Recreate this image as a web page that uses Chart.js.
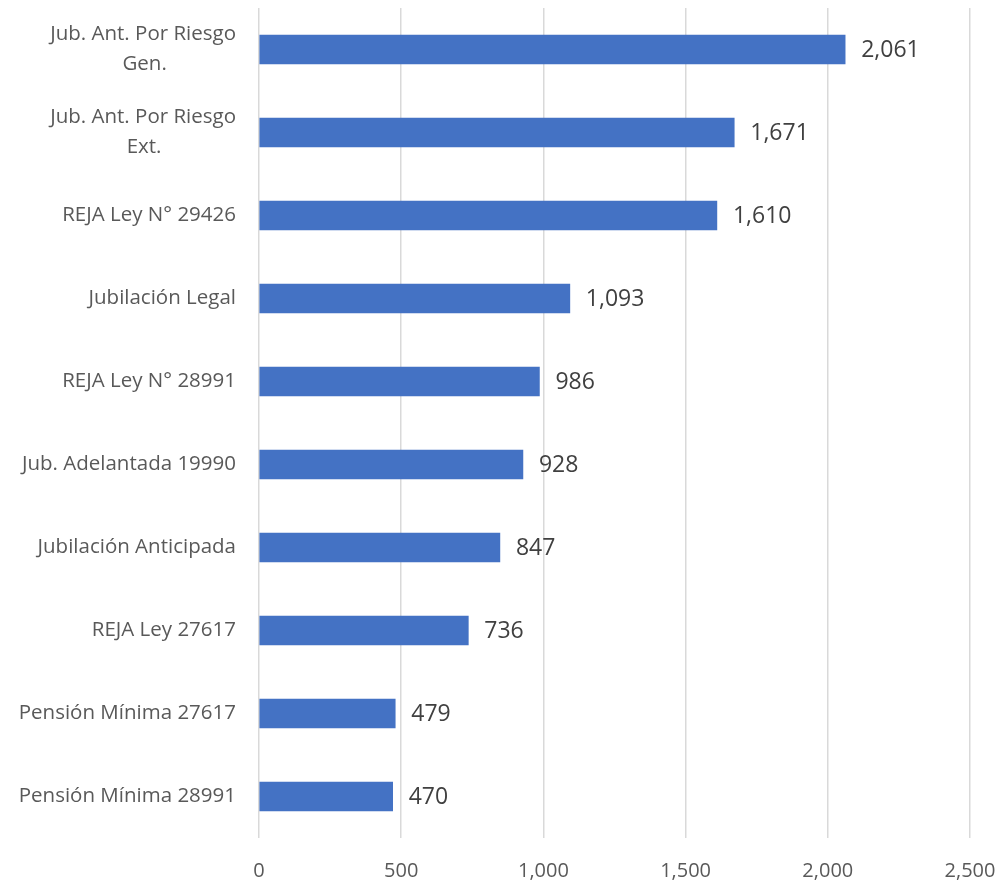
<!DOCTYPE html>
<html>
<head>
<meta charset="utf-8">
<script src="https://cdn.jsdelivr.net/npm/chart.js@4"></script>
<style>
  html, body { margin: 0; padding: 0; background: #fff; }
  #wrap { width: 999px; height: 882px; }
</style>
</head>
<body>
<div id="wrap"><canvas id="chart" width="999" height="882"></canvas></div>
<script>
const categories = [
  ["Jub. Ant. Por Riesgo", "Gen."],
  ["Jub. Ant. Por Riesgo", "Ext."],
  "REJA Ley N° 29426",
  "Jubilación Legal",
  "REJA Ley N° 28991",
  "Jub. Adelantada 19990",
  "Jubilación Anticipada",
  "REJA Ley 27617",
  "Pensión Mínima 27617",
  "Pensión Mínima 28991"
];
const values = [2061, 1671, 1610, 1093, 986, 928, 847, 736, 479, 470];
const xTicks = [0, 500, 1000, 1500, 2000, 2500];

const FONT = "'Open Sans', 'Noto Sans', sans-serif";
const Y_FONT_SIZE = 20.5;

// wrapped labels are centred on their longest line, so pad the short lines
const measureCtx = document.createElement("canvas").getContext("2d");
measureCtx.font = Y_FONT_SIZE + "px " + FONT;
function centreLines(label) {
  if (!Array.isArray(label)) return label;
  const widest = Math.max(...label.map(l => measureCtx.measureText(l).width));
  const nbsp = measureCtx.measureText("\u00a0").width;
  return label.map(l => {
    const gap = (widest - measureCtx.measureText(l).width) / 2;
    return l + "\u00a0".repeat(Math.round(gap / nbsp));
  });
}

// draws the value to the right of every bar
const valueLabels = {
  id: "valueLabels",
  afterDatasetsDraw(chart) {
    const ctx = chart.ctx;
    const meta = chart.getDatasetMeta(0);
    ctx.save();
    ctx.font = "23px " + FONT;
    ctx.fillStyle = "#404040";
    ctx.textAlign = "left";
    ctx.textBaseline = "middle";
    meta.data.forEach((bar, i) => {
      ctx.fillText(values[i].toLocaleString("en-US"), bar.x + 16, bar.y + 1);
    });
    ctx.restore();
  }
};

new Chart(document.getElementById("chart"), {
  type: "bar",
  data: {
    labels: categories,
    datasets: [{
      data: values,
      backgroundColor: "#4472C4",
      barThickness: 29
    }]
  },
  options: {
    indexAxis: "y",
    responsive: false,
    animation: false,
    layout: { padding: { top: 8, right: 29, left: 0, bottom: 0 } },
    plugins: { legend: { display: false }, tooltip: { enabled: false } },
    scales: {
      x: {
        min: 0,
        max: 2500,
        afterBuildTicks(scale) { scale.ticks = xTicks.map(v => ({ value: v })); },
        afterFit(scale) {
          scale.height = 44;
          scale.paddingLeft = 0;
          scale.paddingRight = 0;
        },
        grid: { color: "#d9d9d9", lineWidth: 1.5, drawTicks: false },
        border: { display: false },
        ticks: {
          color: "#595959",
          font: { family: FONT, size: 20 },
          padding: 21,
          maxRotation: 0,
          callback: v => v.toLocaleString("en-US")
        }
      },
      y: {
        afterFit(scale) {
          scale.width = 259;
          scale.paddingTop = 0;
          scale.paddingBottom = 0;
        },
        grid: { display: false, drawTicks: false },
        border: { display: false },
        ticks: {
          color: "#595959",
          font: { family: FONT, size: Y_FONT_SIZE, lineHeight: 1.45 },
          padding: 23,
          callback(value) { return centreLines(categories[value]); }
        }
      }
    }
  },
  plugins: [valueLabels]
});
</script>
</body>
</html>
